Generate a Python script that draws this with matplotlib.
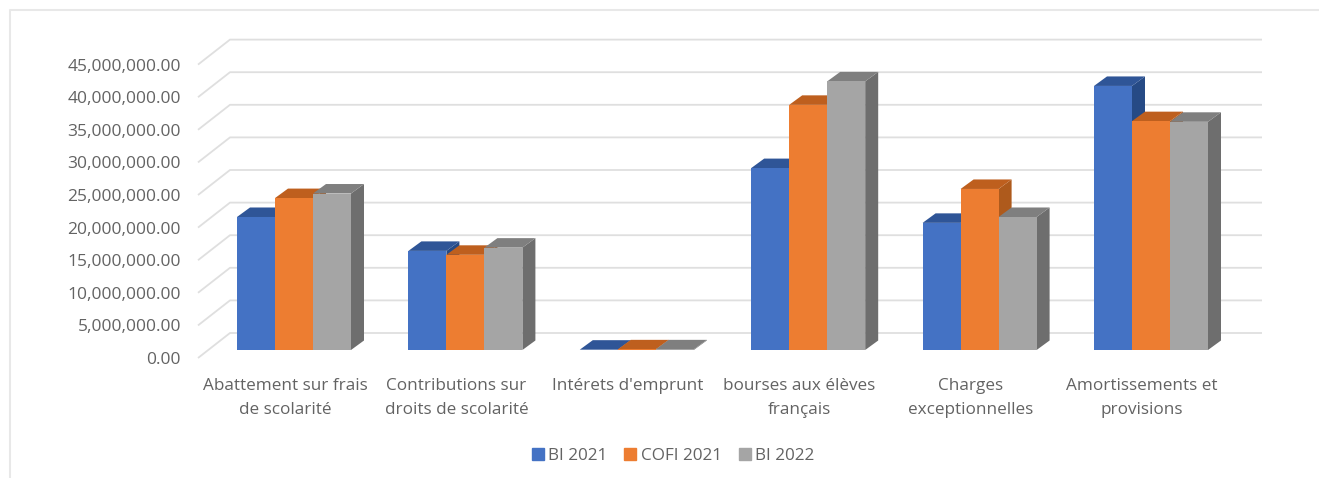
import matplotlib
matplotlib.use("Agg")
import matplotlib.pyplot as plt
from matplotlib.lines import Line2D
from matplotlib.patches import Patch

categories = ["Abattement sur frais\nde scolarité", "Contributions sur\ndroits de scolarité",
              "Intérets d'emprunt", "bourses aux élèves\nfrançais",
              "Charges\nexceptionnelles", "Amortissements et\nprovisions"]
bi_2021 = [20.4e6, 15.2e6, 0.05e6, 27.9e6, 19.5e6, 40.5e6]
cofi_2021 = [23.3e6, 14.6e6, 0.1e6, 37.6e6, 24.7e6, 35.1e6]
bi_2022 = [24.0e6, 15.7e6, 0.1e6, 41.2e6, 20.4e6, 35.0e6]
series_names = ["BI 2021", "COFI 2021", "BI 2022"]
ticks = [0, 5e6, 10e6, 15e6, 20e6, 25e6, 30e6, 35e6, 40e6, 45e6]

W, H = 1319, 478
PX_X = 171.4          # pixels per category
PX_M = 6.52 / 1e6     # pixels per unit of value
BAR_W = 38 / PX_X
DX, DY = 13 / PX_X, 9.5 / PX_M   # depth of the 3d boxes

colors = [("#4472C4", "#2F5597", "#264A85"),
          ("#ED7D31", "#BE5F1E", "#AE5A1C"),
          ("#A5A5A5", "#7F7F7F", "#6E6E6E")]
text_col = "#636363"

plt.rcParams["font.family"] = ["Open Sans", "DejaVu Sans"]
fig = plt.figure(figsize=(W / 100, H / 100), dpi=100)
ax = fig.add_axes([198 / W, 1 - 358 / H, (1262 - 198) / W, (358 - 39) / H])
ax.set_xlim((198 - 294) / PX_X, (1262 - 294) / PX_X)
ax.set_ylim(-8 / PX_M, 311 / PX_M)
ax.axis("off")

# gridlines on the floor and the back wall
x_left = ax.get_xlim()[0]
x_wall = x_left + 32 / PX_X
x_right = ax.get_xlim()[1]
for t in ticks:
    ax.plot([x_left, x_wall, x_right], [t - 8 / PX_M, t + 17 / PX_M, t + 17 / PX_M],
            color="#DFDFDF", lw=1.3, clip_on=False, zorder=1, solid_capstyle="butt")
    ax.text(x_left - 17 / PX_X, t - 10 / PX_M, f"{t:,.2f}", ha="right", va="center",
            fontsize=12.5, color=text_col)

for s, vals in enumerate([bi_2021, cofi_2021, bi_2022]):
    front, top, side = colors[s]
    for i, v in enumerate(vals):
        x0 = i - 1.5 * BAR_W + s * BAR_W
        x1 = x0 + BAR_W
        z = 2 + s
        ax.fill([x1, x1 + DX, x1 + DX, x1], [0, DY, v + DY, v], color=side, lw=0, zorder=z, clip_on=False)
        ax.fill([x0, x0 + DX, x1 + DX, x1], [v, v + DY, v + DY, v], color=top, lw=0, zorder=z, clip_on=False)
        ax.bar(x0, v, BAR_W, align="edge", color=front, lw=0, zorder=z, clip_on=False)

for i, label in enumerate(categories):
    ax.text(i - 9 / PX_X, -27.5 / PX_M, label, ha="center", va="top", fontsize=12.3,
            color=text_col, linespacing=1.68)

handles = [Patch(color=colors[k][0], label=series_names[k]) for k in range(3)]
fig.legend(handles=handles, loc="center", bbox_to_anchor=(673 / W, 1 - 456 / H), ncol=3, frameon=False,
           fontsize=12.3, labelcolor=text_col, handlelength=0.7, handleheight=0.7,
           handletextpad=0.25, columnspacing=1.0)

# outer frame of the chart
fig.add_artist(Line2D([10 / W, 10 / W, 1], [0, 1 - 10 / H, 1 - 10 / H], color="#E8E8E8", lw=1.5))

fig.savefig("out.png", dpi=100)
